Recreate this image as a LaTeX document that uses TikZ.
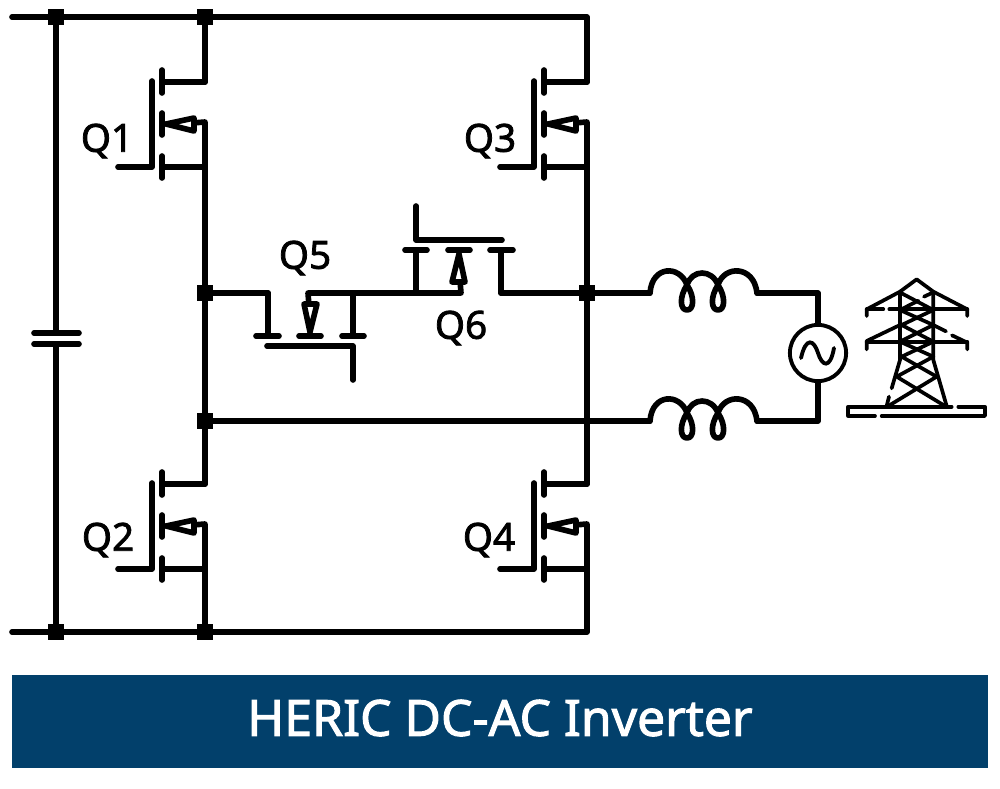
\documentclass[tikz,border=0pt]{standalone}
\usepackage{fontspec}
\setmainfont{Noto Sans}
\newfontfamily\medfont[FakeBold=2]{Noto Sans}
\definecolor{bannerblue}{HTML}{02406B}
\tikzset{
  wire/.style={line width=3.2pt, line cap=round, line join=round},
  towerline/.style={line width=2.1pt, line cap=round, line join=round},
  junction/.style={rectangle, fill=black, minimum size=9.5pt, inner sep=0pt},
  qlabel/.style={font=\medfont\fontsize{22}{24}\selectfont},
  mosfet/.pic={
    % canale
    \draw[wire] (0,-54) -- (0,-31);
    \draw[wire] (0,-11) -- (0,11);
    \draw[wire] (0,32) -- (0,54);
    % gate
    \draw[wire] (-10,-43) -- (-10,43) -- (-44,43);
    % drain e source
    \coordinate (-drain) at (43,-42);
    \coordinate (-source) at (43,43);
    \draw[wire] (0,-42) -- (-drain);
    \draw[wire] (0,43) -- (-source) -- (43,-2) -- (30,-1);
    % freccia
    \draw[wire, fill=white] (4,0) -- (32,-6) -- (32,7) -- cycle;
  },
  inductor/.pic={
    \coordinate (-in) at (0,0);
    \coordinate (-out) at (107,0);
    \draw[wire] (-in) .. controls (2,-28) and (30,-28) .. (37,-8)
      .. controls (45,4) and (44,17) .. (37,17) .. controls (30,17) and (29,4) .. (37,-8)
      .. controls (42,-24) and (62,-24) .. (68,-8)
      .. controls (76,4) and (75,17) .. (68,17) .. controls (61,17) and (60,4) .. (68,-8)
      .. controls (74,-28) and (104,-28) .. (-out);
  },
}
\begin{document}
\begin{tikzpicture}[x=0.02cm, y=-0.02cm]
  \useasboundingbox (0,0) rectangle (1000,788);

  % Giunzioni
  \foreach \jname/\jx/\jy in {j1/56/17, j2/205/17, j3/205/293, j4/205/421, j5/56/632, j6/205/632, j7/587/293}
    \node[junction] (\jname) at (\jx,\jy) {};
  \coordinate (topL) at (12,17);
  \coordinate (topR) at (587,17);
  \coordinate (botL) at (12,632);
  \coordinate (botR) at (587,632);

  % Transistor
  \foreach \qname/\qx/\qy/\qrot in {Q1/162/124/0, Q2/162/526/0, Q3/544/124/0, Q4/544/526/0, Q5/310/336/90, Q6/459/250/-90}
    \pic[rotate=\qrot] (\qname) at (\qx,\qy) {mosfet};

  % Etichette
  \foreach \lname/\lx/\ly/\ltext in {lQ1/107/141/Q1, lQ2/108/540/Q2, lQ3/490/141/Q3, lQ4/489/540/Q4, lQ5/305/258/Q5, lQ6/461/328/Q6}
    \node[qlabel] (\lname) at (\lx,\ly) {\ltext};

  % Barre
  \draw[wire] (topL) -- (j1) -- (j2) -- (topR) -- (Q3-drain);
  \draw[wire] (botL) -- (j5) -- (j6) -- (botR) -- (Q4-source);
  \draw[wire] (j2) -- (Q1-drain);
  \draw[wire] (Q1-source) -- (j3) -- (j4) -- (Q2-drain);
  \draw[wire] (Q2-source) -- (j6);
  \draw[wire] (Q3-source) -- (j7) -- (Q4-drain);

  % Condensatore
  \node[minimum width=1pt, inner sep=0pt] (capT) at (56,333) {};
  \node[minimum width=1pt, inner sep=0pt] (capB) at (56,344) {};
  \draw[wire] (j1) -- (capT);
  \draw[wire] (capB) -- (j5);
  \draw[wire] (34,333) -- (79,333);
  \draw[wire] (34,344) -- (79,344);

  % Ramo centrale
  \draw[wire] (j3) -| (Q5-drain);
  \draw[wire] (Q5-source) -- (Q6-source);
  \draw[wire] (Q6-drain) -- (j7);

  % Induttori e rete
  \pic (L1) at (650,293) {inductor};
  \pic (L2) at (650,421) {inductor};
  \node[draw, circle, line width=2.2pt, minimum size=32pt, inner sep=0pt] (ac) at (818,353) {};
  \draw[line width=2.2pt, line cap=round] (801,358) .. controls (806,336) and (814,340) .. (818,353)
    .. controls (822,366) and (830,370) .. (834,348);
  \draw[wire] (j7) -- (L1-in);
  \draw[wire] (j4) -- (L2-in);
  \draw[wire] (L1-out) -| (ac.north);
  \draw[wire] (L2-out) -| (ac.south);

  % Traliccio
  \begin{scope}[shift={(640,260)}, x=0.02cm/3, y=-0.02cm/3]
    \draw[towerline] (680,168) -- (680,148) -- (780,95) -- (830,58) -- (880,95) -- (982,148) -- (982,168);
    \draw[towerline] (680,148) -- (730,148) (748,148) -- (982,148);
    \draw[towerline] (680,268) -- (680,243) -- (780,195) (880,195) -- (918,214) (936,226) -- (982,248) -- (982,268);
    \draw[towerline] (680,245) -- (982,245);
    \draw[towerline] (780,95) -- (780,300) -- (755,385) (747,410) -- (740,438);
    \draw[towerline] (880,95) -- (880,300) -- (920,438);
    \draw[towerline] (785,100) -- (880,150) -- (785,195) -- (880,245) -- (785,290) -- (890,350) -- (745,438);
    \draw[towerline] (880,97) -- (852,110) (780,150) -- (880,195) -- (780,245) -- (880,290) -- (770,350) -- (915,438);
    \draw[towerline] (780,150) -- (835,122);
    \draw[towerline] (935,440) -- (625,440) -- (625,468) -- (705,468) (725,468) -- (1035,468) -- (1035,440) -- (955,440);
  \end{scope}

  % Titolo
  \node[fill=bannerblue, minimum width=556pt, minimum height=52.9pt, inner sep=0pt] (banner) at (500,721.5) {};
  \node[text=white, font=\medfont\fontsize{28.4}{30}\selectfont] (title) at (500,718) {HERIC DC-AC Inverter};
\end{tikzpicture}
\end{document}
